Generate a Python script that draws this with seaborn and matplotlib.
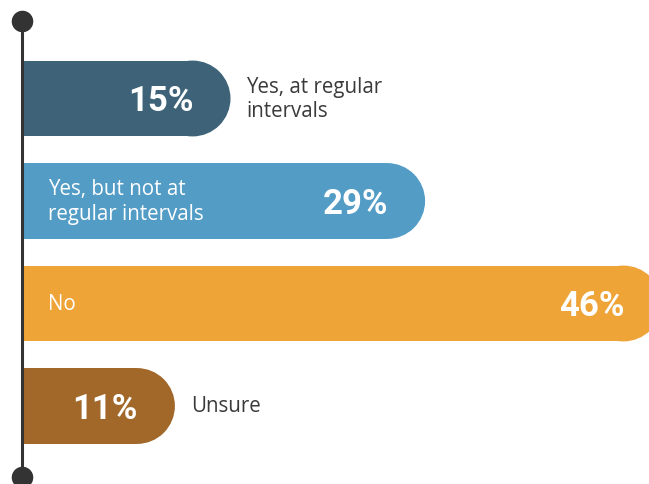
import matplotlib
matplotlib.use("Agg")
import matplotlib.pyplot as plt
from matplotlib.patches import Ellipse
import seaborn as sns
import pandas as pd

# Survey answers, percent of respondents
answers = ["Yes, at regular\nintervals", "Yes, but not at\nregular intervals", "No", "Unsure"]
shares = [15, 29, 46, 11]
colors = ["#3e6378", "#529cc6", "#efa438", "#a2682a"]

df = pd.DataFrame({"answer": answers, "share": shares})

sns.set_theme(style="white")
plt.rcParams["font.family"] = ["Open Sans", "DejaVu Sans"]

W, H = 649, 485
fig = plt.figure(figsize=(W / 100, H / 100), dpi=100)
ax = fig.add_axes([0, 0, 1, 1])

sns.barplot(data=df, x="share", y="answer", hue="answer", palette=colors,
            orient="h", width=0.74, legend=False, ax=ax, saturation=1)

# axis frame: zero sits just right of the spine, rows ~102 px apart
px_per_pct = 13.9
px_per_row = 102.5
x_origin, y_first = 22, 99.5
ax.set_xlim(-x_origin / px_per_pct, (W - x_origin) / px_per_pct)
ax.set_ylim((H - y_first) / px_per_row, -y_first / px_per_row)
ax.axis("off")

t = ax.transData
p0, p1 = t.transform((0, 0)), t.transform((1, 1))
sx, sy = abs(p1[0] - p0[0]), abs(p1[1] - p0[1])

# round the right end of each bar
for patch in ax.patches[:len(shares)]:
    x0, y0 = patch.get_x(), patch.get_y()
    w, h = patch.get_width(), patch.get_height()
    rx = (h / 2) * sy / sx
    patch.set_width(w - rx)
    patch.set_edgecolor("none")
    ax.add_patch(Ellipse((x0 + w - rx, y0 + h / 2), 2 * rx, h,
                         facecolor=patch.get_facecolor(), edgecolor="none",
                         zorder=patch.get_zorder()))

# timeline spine with end dots
y_top = (22 - y_first) / px_per_row
y_bot = (478 - y_first) / px_per_row
ax.plot([0, 0], [y_top, y_bot], color="#333333", lw=2.2, zorder=5,
        solid_capstyle="butt")
ax.plot([0, 0], [y_top, y_bot], "o", color="#333333", ms=14.5, zorder=6)

value_font = dict(family=["Roboto", "DejaVu Sans"], weight="bold", size=25,
                  color="white")
label_font = dict(family=["Open Sans", "DejaVu Sans"], size=14.8,
                  linespacing=1.2)

for i, (ans, v) in enumerate(zip(answers, shares)):
    ax.text(v - 37 / sx, i + 0.02, f"{v}%", ha="right", va="center",
            zorder=7, **value_font)
    if v > 20:
        ax.text(26 / sx, i, ans, ha="left", va="center", color="white",
                zorder=7, **label_font)
    else:
        ax.text(v + 16 / sx, i, ans, ha="left", va="center",
                color="#3a3a3a", zorder=7, **label_font)

fig.savefig("out.png", dpi=100)
